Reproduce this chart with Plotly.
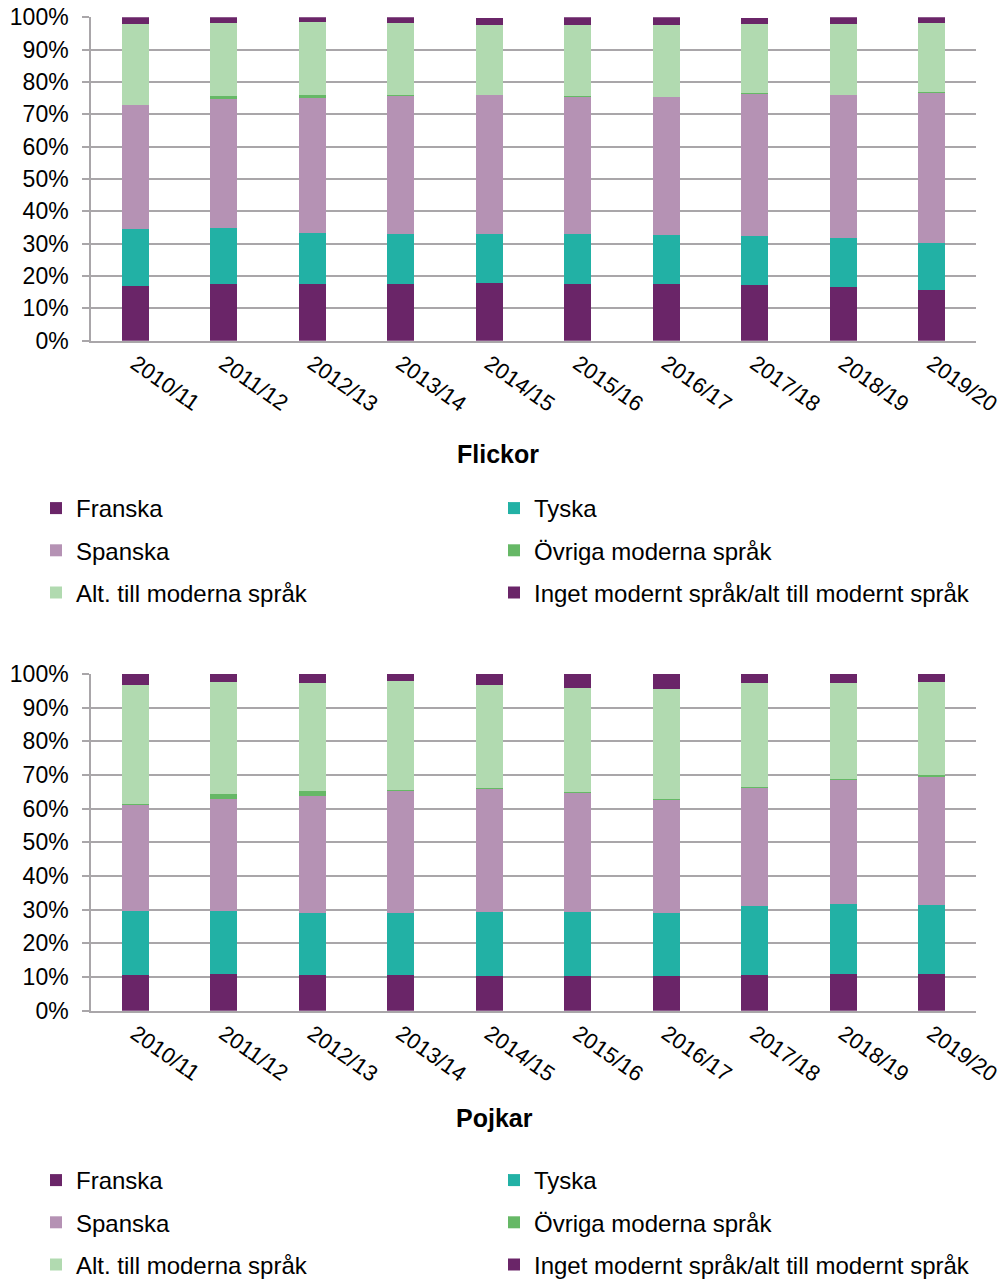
import plotly.graph_objects as go

years = ["2010/11", "2011/12", "2012/13", "2013/14", "2014/15",
         "2015/16", "2016/17", "2017/18", "2018/19", "2019/20"]

series_names = ["Franska", "Tyska", "Spanska", "Övriga moderna språk",
                "Alt. till moderna språk", "Inget modernt språk/alt till modernt språk"]
colors = ["#6A2568", "#22B1A5", "#B592B4", "#66B866", "#B1DAB0", "#6A2568"]

# Flickor (girls), percent
f_franska = [16.9, 17.4, 17.4, 17.6, 17.7, 17.6, 17.5, 17.3, 16.5, 15.8]
f_tyska = [17.7, 17.4, 16.0, 15.4, 15.4, 15.4, 15.2, 15.2, 15.4, 14.5]
f_spanska = [38.2, 39.8, 41.5, 42.7, 42.9, 42.5, 42.6, 43.9, 44.1, 46.4]
f_ovriga = [0.1, 1.1, 1.1, 0.2, 0.1, 0.1, 0.1, 0.2, 0.1, 0.3]
f_alt = [24.9, 22.5, 22.5, 22.2, 21.4, 21.9, 22.3, 21.3, 21.8, 21.2]
f_inget = [2.2, 1.8, 1.5, 1.9, 2.4, 2.5, 2.3, 2.0, 2.1, 1.8]

# Pojkar (boys), percent
p_franska = [10.5, 11.0, 10.7, 10.5, 10.4, 10.4, 10.4, 10.5, 10.8, 11.0]
p_tyska = [19.2, 18.7, 18.2, 18.6, 18.8, 18.8, 18.6, 20.6, 20.9, 20.4]
p_spanska = [31.5, 33.2, 34.9, 36.4, 36.8, 35.6, 33.6, 35.1, 36.9, 38.2]
p_ovriga = [0.1, 1.5, 1.4, 0.1, 0.2, 0.2, 0.4, 0.1, 0.1, 0.3]
p_alt = [35.5, 33.3, 32.2, 32.3, 30.6, 30.9, 32.5, 31.0, 28.7, 27.8]
p_inget = [3.2, 2.3, 2.6, 2.2, 3.2, 4.1, 4.5, 2.8, 2.7, 2.3]

y_ticks = list(range(0, 101, 10))
y_ticktext = ["%d%%" % v for v in y_ticks]

W, H = 1001, 1279
FONT = "Liberation Sans, Arial, sans-serif"

fig = go.Figure()

flickor = [f_franska, f_tyska, f_spanska, f_ovriga, f_alt, f_inget]
pojkar = [p_franska, p_tyska, p_spanska, p_ovriga, p_alt, p_inget]
# legend columns: left column = series 0,2,4 ; right column = 1,3,5
top_leg = ["legend", "legend2", "legend", "legend2", "legend", "legend2"]
bot_leg = ["legend3", "legend4", "legend3", "legend4", "legend3", "legend4"]

for i, name in enumerate(series_names):
    fig.add_trace(go.Bar(x=years, y=flickor[i], name=name, marker_color=colors[i],
                         marker_line_width=0, xaxis="x", yaxis="y",
                         legend=top_leg[i], legendgroup="t%d" % i))
for i, name in enumerate(series_names):
    fig.add_trace(go.Bar(x=years, y=pojkar[i], name=name, marker_color=colors[i],
                         marker_line_width=0, xaxis="x2", yaxis="y2",
                         legend=bot_leg[i], legendgroup="b%d" % i))

grid = "#A9A6A9"
xdom = [91 / W, 976 / W]
top_dom = [1 - 340.7 / H, 1 - 17.3 / H]
bot_dom = [1 - 1010.7 / H, 1 - 674 / H]

xcommon = dict(type="category", showline=True, linecolor=grid, linewidth=1.5,
               showgrid=False, ticks="", tickangle=35, automargin=False,
               tickfont=dict(family=FONT, size=22, color="#000000"),
               domain=xdom, fixedrange=True)
ycommon = dict(range=[0, 100], tickvals=y_ticks, ticktext=y_ticktext,
               showline=True, linecolor=grid, linewidth=1.5,
               showgrid=True, gridcolor=grid, gridwidth=1.5,
               ticks="outside", ticklen=7, tickcolor=grid, tickwidth=1.5,
               ticklabelstandoff=9, automargin=False,
               tickfont=dict(family=FONT, size=23, color="#000000"),
               zeroline=False, fixedrange=True)

legcommon = dict(orientation="v", traceorder="grouped", tracegroupgap=8,
                 font=dict(family=FONT, size=24, color="#000000"),
                 bgcolor="rgba(0,0,0,0)", borderwidth=0,
                 xanchor="left", yanchor="top", itemclick=False, itemdoubleclick=False)

fig.update_layout(
    width=W, height=H,
    margin=dict(l=0, r=0, t=0, b=0, autoexpand=False),
    paper_bgcolor="white", plot_bgcolor="white",
    barmode="stack", bargap=0.69,
    showlegend=True,
    xaxis=dict(xcommon, anchor="y"),
    yaxis=dict(ycommon, domain=top_dom, anchor="x"),
    xaxis2=dict(xcommon, anchor="y2"),
    yaxis2=dict(ycommon, domain=bot_dom, anchor="x2"),
    legend=dict(legcommon, x=36 / W, y=1 - 486 / H),
    legend2=dict(legcommon, x=494 / W, y=1 - 486 / H),
    legend3=dict(legcommon, x=36 / W, y=1 - 1158 / H),
    legend4=dict(legcommon, x=494 / W, y=1 - 1158 / H),
    annotations=[
        dict(text="<b>Flickor</b>", x=498 / W, y=1 - 454 / H, xref="paper", yref="paper",
             xanchor="center", yanchor="middle", showarrow=False,
             font=dict(family=FONT, size=25, color="#000000")),
        dict(text="<b>Pojkar</b>", x=494 / W, y=1 - 1118 / H, xref="paper", yref="paper",
             xanchor="center", yanchor="middle", showarrow=False,
             font=dict(family=FONT, size=25, color="#000000")),
    ],
)

fig.write_html("out.html",
               config={"displayModeBar": False},
               post_script="document.body.style.margin='0px';"
                           "document.body.style.overflow='hidden';")
